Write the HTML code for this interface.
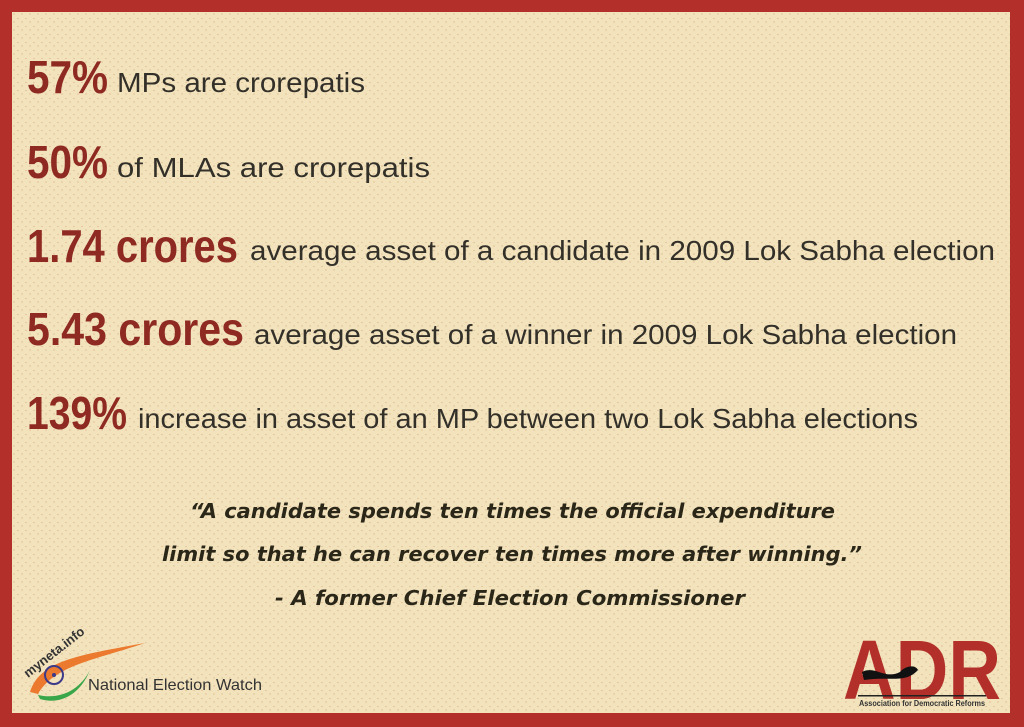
<!DOCTYPE html>
<html><head><meta charset="utf-8"><style>
html,body{margin:0;padding:0;width:1024px;height:727px;overflow:hidden;background:#b3302a}
svg{display:block}
.big{font-family:"Liberation Sans",sans-serif;font-weight:bold;fill:#8e2a22;font-size:46px}
.sm{font-family:"Liberation Sans",sans-serif;fill:#333029;font-size:28px}
.q{font-family:"DejaVu Sans","Liberation Sans",sans-serif;font-weight:bold;font-style:italic;fill:#2a2618;font-size:20px}
</style></head><body>
<svg width="1024" height="727" viewBox="0 0 1024 727">
<defs>
<pattern id="spk" width="8" height="8" patternUnits="userSpaceOnUse">
<rect width="8" height="8" fill="#f2e3bd"/>
<rect x="1" y="2" width="2" height="1" fill="#e6c7a0"/>
<rect x="5" y="5" width="2" height="2" fill="#ead2aa"/>
</pattern>
</defs>
<rect x="0" y="0" width="1024" height="727" fill="#b3302a"/>
<rect x="12" y="12" width="998" height="701" fill="url(#spk)"/>

<g>
<text class="big" x="27" y="93" textLength="81" lengthAdjust="spacingAndGlyphs">57%</text>
<text class="sm" x="117" y="92" textLength="248" lengthAdjust="spacingAndGlyphs">MPs are crorepatis</text></g>
<g>
<text class="big" x="27" y="178" textLength="81" lengthAdjust="spacingAndGlyphs">50%</text>
<text class="sm" x="117" y="177" textLength="313" lengthAdjust="spacingAndGlyphs">of  MLAs are crorepatis</text></g>
<g>
<text class="big" x="27" y="262" textLength="211" lengthAdjust="spacingAndGlyphs">1.74 crores</text>
<text class="sm" x="250" y="260" textLength="745" lengthAdjust="spacingAndGlyphs">average asset of a candidate in 2009  Lok Sabha election</text></g>
<g>
<text class="big" x="27" y="345" textLength="217" lengthAdjust="spacingAndGlyphs">5.43 crores</text>
<text class="sm" x="254" y="344" textLength="703" lengthAdjust="spacingAndGlyphs">average asset of a winner in 2009  Lok Sabha election</text></g>
<g>
<text class="big" x="27" y="429" textLength="100" lengthAdjust="spacingAndGlyphs">139%</text>
<text class="sm" x="138" y="428" textLength="780" lengthAdjust="spacingAndGlyphs">increase in asset of an MP between two Lok Sabha elections</text></g>

<g>
<text class="q" x="190" y="518" textLength="645" lengthAdjust="spacingAndGlyphs">“A candidate spends ten times the official expenditure</text>
<text class="q" x="162" y="561" textLength="700" lengthAdjust="spacingAndGlyphs">limit so that he can recover ten times more after winning.”</text>
<text class="q" x="275" y="605" textLength="470" lengthAdjust="spacingAndGlyphs">- A former Chief Election Commissioner</text></g>

<g>
<path d="M30 692 C40 660 80 655 145 643 C95 660 55 665 38 694 Z" fill="#ec7a2e"/>
<path d="M38 695 C60 700 80 690 90 670 C80 695 60 705 40 699 Z" fill="#3aa64a"/>
<circle cx="54" cy="675" r="9" fill="none" stroke="#3d3a8a" stroke-width="2"/>
<circle cx="54" cy="675" r="2" fill="#3d3a8a"/>
<text x="28" y="678" font-family="Liberation Sans,sans-serif" font-size="13" font-weight="bold" fill="#333" transform="rotate(-38 28 678)">myneta.info</text>
<text x="88" y="690" font-family="Liberation Sans,sans-serif" font-size="16" fill="#333" textLength="174" lengthAdjust="spacingAndGlyphs">National Election Watch</text>
</g>
<g>
<text x="843" y="699" font-family="Liberation Sans,sans-serif" font-size="84" font-weight="bold" fill="#b3302a" textLength="158" lengthAdjust="spacingAndGlyphs">ADR</text>
<path d="M862 672 C875 665 885 680 900 672 C905 666 915 664 918 670 C905 684 890 676 864 680 Z" fill="#111"/>
<rect x="858" y="695" width="128" height="1.5" fill="#222"/>
<text x="859" y="706" font-family="Liberation Sans,sans-serif" font-size="8" font-weight="bold" fill="#333" textLength="126" lengthAdjust="spacingAndGlyphs">Association for Democratic Reforms</text>
</g>
</svg>
</body></html>
